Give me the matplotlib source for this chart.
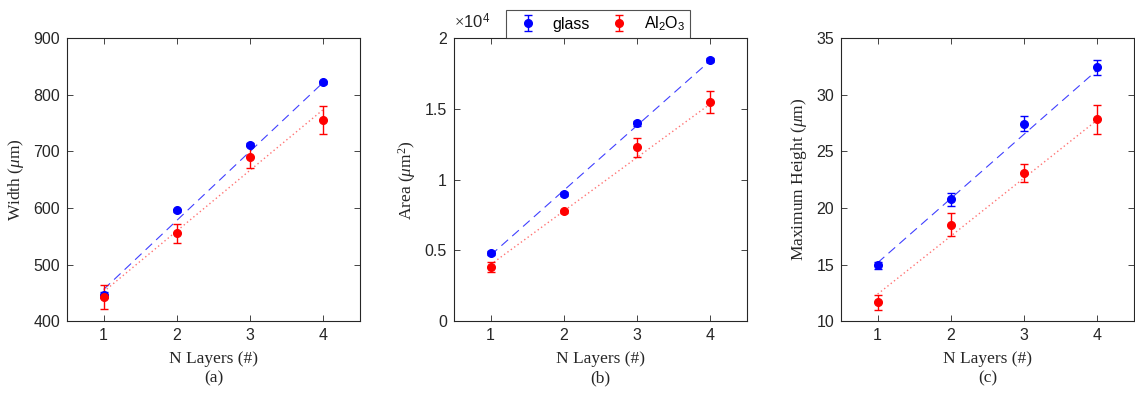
import matplotlib
matplotlib.use("Agg")
import matplotlib.pyplot as plt
import numpy as np

layers = [1, 2, 3, 4]

# (a) width, um
width_glass = [446, 596, 712, 822]
width_glass_err = [5, 3, 3, 3]
width_al = [443, 555, 691, 756]
width_al_err = [21.5, 16.5, 19.5, 25]
width_glass_fit = [456, 822]
width_al_fit = [452, 774]

# (b) area, um^2
area_glass = [4820, 8990, 13980, 18470]
area_glass_err = [120, 150, 150, 150]
area_al = [3860, 7760, 12280, 15480]
area_al_err = [350, 120, 680, 790]
area_glass_fit = [4660, 18420]
area_al_fit = [4000, 15360]

# (c) maximum height, um
height_glass = [14.92, 20.76, 27.45, 32.43]
height_glass_err = [0.35, 0.55, 0.65, 0.68]
height_al = [11.65, 18.52, 23.09, 27.84]
height_al_err = [0.7, 1.0, 0.83, 1.3]
height_glass_fit = [15.16, 32.2]
height_al_fit = [12.39, 27.78]

fit_x = [1, 4]

SERIF = ["Liberation Serif", "DejaVu Serif"]
SANS = ["Liberation Sans", "DejaVu Sans"]
DARK = "#262626"

plt.rcParams["font.family"] = SANS
plt.rcParams["mathtext.fontset"] = "custom"
plt.rcParams["mathtext.rm"] = "Liberation Serif"
plt.rcParams["mathtext.it"] = "Liberation Serif:italic"
plt.rcParams["mathtext.sf"] = "Liberation Sans"

fig = plt.figure(figsize=(11.35, 3.95), dpi=100)

panels = [
    (0.059, width_glass, width_glass_err, width_al, width_al_err, width_glass_fit, width_al_fit,
     (400, 900), np.arange(400, 901, 100), r"Width ($\mu$m)", "(a)"),
    (0.400, area_glass, area_glass_err, area_al, area_al_err, area_glass_fit, area_al_fit,
     (0, 20000), np.arange(0, 20001, 5000), r"Area ($\mu$m$^2$)", "(b)"),
    (0.741, height_glass, height_glass_err, height_al, height_al_err, height_glass_fit, height_al_fit,
     (10, 35), np.arange(10, 36, 5), r"Maximum Height ($\mu$m)", "(c)"),
]

handles = None
for left, g, ge, a, ae, gfit, afit, ylim, yticks, ylabel, tag in panels:
    ax = fig.add_axes([left, 0.187, 0.258, 0.716])
    ax.plot(fit_x, gfit, color="blue", linestyle=(0, (8, 5)), lw=0.8, alpha=0.75)
    ax.plot(fit_x, afit, color="red", linestyle=(0, (1, 2)), lw=1.0, alpha=0.55)
    h1 = ax.errorbar(layers, g, yerr=ge, fmt="o", color="blue", ms=5.5, capsize=3,
                     elinewidth=1.0, capthick=1.0)
    h2 = ax.errorbar(layers, a, yerr=ae, fmt="o", color="red", ms=5.5, capsize=3,
                     elinewidth=1.0, capthick=1.0)
    handles = [h1, h2]
    ax.set_xlim(0.5, 4.5)
    ax.set_ylim(*ylim)
    ax.set_xticks(layers)
    ax.set_yticks(yticks)
    if tag == "(b)":
        ax.set_yticklabels(["0", "0.5", "1", "1.5", "2"])
        ax.text(0.0, 1.025, r"$\times\mathsf{10}^\mathsf{4}$", transform=ax.transAxes,
                fontsize=12, color=DARK, ha="left", va="bottom")
    ax.tick_params(direction="in", top=True, right=True, labelsize=11.5, colors=DARK,
                   length=4, width=0.6, pad=5)
    for sp in ax.spines.values():
        sp.set_color(DARK)
        sp.set_linewidth(0.8)
    ax.set_ylabel(ylabel, family=SERIF, fontsize=12.5, color=DARK, labelpad=5)
    ax.set_xlabel("N Layers (#)\n" + tag, family=SERIF, fontsize=12.5,
                  color=DARK, linespacing=1.25, labelpad=6)

leg = fig.legend(handles, ["glass", r"Al$_\mathsf{2}$O$_\mathsf{3}$"], loc="center", ncol=2,
                 bbox_to_anchor=(0.527, 0.939), fontsize=11.5, frameon=True, fancybox=False,
                 edgecolor=DARK, handletextpad=0.5, columnspacing=0.8, borderpad=0.3,
                 handlelength=2.1, borderaxespad=0)
leg.get_frame().set_linewidth(0.8)
for t in leg.get_texts():
    t.set_family(SANS)
    t.set_color("black")

fig.savefig("out.png", dpi=100)
